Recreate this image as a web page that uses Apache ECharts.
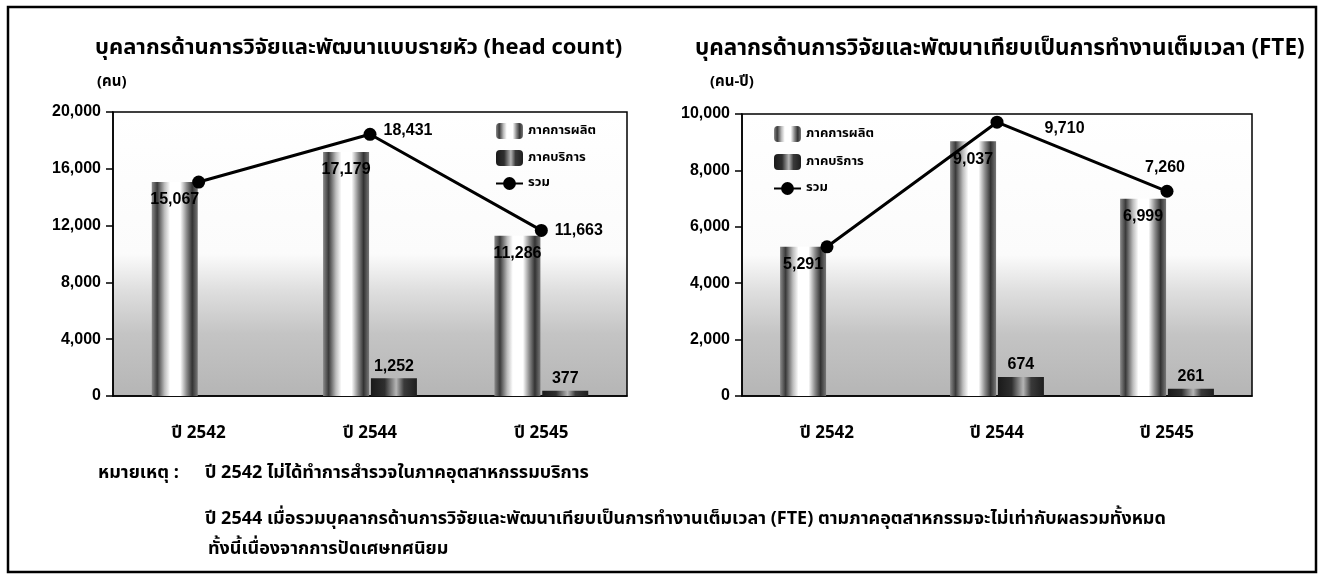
<!DOCTYPE html>
<html>
<head>
<meta charset="utf-8">
<title>บุคลากรด้านการวิจัยและพัฒนา</title>
<script src="https://cdn.jsdelivr.net/npm/echarts@6/dist/echarts.min.js"></script>
<style>
  html, body { margin: 0; padding: 0; background: #fff; }
  #chart { width: 1324px; height: 581px; }
</style>
</head>
<body>
<div id="chart"></div>
<script>
// ข้อมูล
const categories = ['ปี 2542', 'ปี 2544', 'ปี 2545']
const headManufacturing = [15067, 17179, 11286]
const headService = [null, 1252, 377]   // ปี 2542 ไม่ได้สำรวจภาคบริการ
const headTotal = [15067, 18431, 11663]
const fteManufacturing = [5291, 9037, 6999]
const fteService = [null, 674, 261]
const fteTotal = [5291, 9710, 7260]
const headTicks = [0, 20000, 4000]   // min, max, interval
const fteTicks = [0, 10000, 2000]

const FONT = "'Noto Sans Thai', 'Noto Sans', 'DejaVu Sans', sans-serif"
const NUM = "'Liberation Sans Narrow', 'Liberation Sans', Arial, sans-serif"

// ลายทรงกระบอก
const manuColor = {
  type: 'linear', x: 0, y: 0, x2: 1, y2: 0,
  colorStops: [
    { offset: 0, color: '#8a8a8a' },
    { offset: 0.12, color: '#3a3a3a' },
    { offset: 0.28, color: '#bdbdbd' },
    { offset: 0.4, color: '#ffffff' },
    { offset: 0.62, color: '#ffffff' },
    { offset: 0.76, color: '#8a8a8a' },
    { offset: 0.88, color: '#333' },
    { offset: 1, color: '#777' }
  ]
}
const servColor = {
  type: 'linear', x: 0, y: 0, x2: 1, y2: 0,
  colorStops: [
    { offset: 0, color: '#1a1a1a' },
    { offset: 0.3, color: '#2e2e2e' },
    { offset: 0.55, color: '#b5b5b5' },
    { offset: 0.72, color: '#3a3a3a' },
    { offset: 1, color: '#1e1e1e' }
  ]
}
const plotBg = {
  type: 'linear', x: 0, y: 0, x2: 0, y2: 1,
  colorStops: [
    { offset: 0, color: '#ffffff' },
    { offset: 0.5, color: '#fbfbfb' },
    { offset: 0.63, color: '#dedede' },
    { offset: 0.78, color: '#c4c4c4' },
    { offset: 1, color: '#b5b5b5' }
  ]
}

const numLabel = { color: '#000', fontFamily: NUM, fontWeight: 'bold', fontSize: 16 }
const noteFont = 'bold 18px ' + FONT

function yAxis(idx, t) {
  return {
    gridIndex: idx, type: 'value', min: t[0], max: t[1], interval: t[2],
    axisLine: { show: true, lineStyle: { color: '#000', width: 1.5 } },
    axisTick: { show: true, length: 7, lineStyle: { color: '#000', width: 1.5 } },
    splitLine: { show: false },
    axisLabel: {
      margin: 12, color: '#000', fontFamily: NUM, fontWeight: 'bold', fontSize: 16,
      formatter: v => v.toLocaleString('en-US')
    }
  }
}
function xAxis(idx) {
  return {
    gridIndex: idx, type: 'category', data: categories,
    axisLine: { lineStyle: { color: '#000', width: 1.5 } },
    axisTick: { length: 7, lineStyle: { color: '#000', width: 1.5 } },
    axisLabel: { margin: 30, color: '#000', fontFamily: FONT, fontWeight: 'bold', fontSize: 17 }
  }
}
function barSeries(name, idx, vals, color, pos, dist, barW) {
  return {
    name: name, type: 'bar', xAxisIndex: idx, yAxisIndex: idx,
    barWidth: barW, barGap: '4%',
    itemStyle: { color: color },
    label: {
      show: true, position: pos, distance: dist, ...numLabel,
      formatter: p => p.value.toLocaleString('en-US')
    },
    data: vals
  }
}
function lineSeries(idx, vals, labelPos) {
  return {
    name: 'รวม', type: 'line', xAxisIndex: idx, yAxisIndex: idx,
    symbol: 'circle', symbolSize: 13, z: 5,
    lineStyle: { color: '#000', width: 3 },
    itemStyle: { color: '#000' },
    data: vals.map((v, i) => ({
      value: v,
      label: labelPos[i] ? {
        show: true, ...numLabel,
        position: labelPos[i].pos, offset: labelPos[i].off,
        formatter: p => p.value.toLocaleString('en-US')
      } : { show: false }
    }))
  }
}
function legend(left, top) {
  return {
    left: left, top: top, orient: 'vertical', itemGap: 11,
    itemWidth: 27, itemHeight: 16,
    textStyle: { color: '#000', fontFamily: FONT, fontWeight: 'bold', fontSize: 13 },
    data: ['ภาคการผลิต', 'ภาคบริการ', 'รวม']
  }
}

const chart = echarts.init(document.getElementById('chart'))
chart.setOption({
  backgroundColor: '#fff',
  animation: false,
  title: [
    { text: 'บุคลากรด้านการวิจัยและพัฒนาแบบรายหัว (head count)', left: 90, top: 34,
      textStyle: { fontFamily: FONT, fontWeight: 'bold', fontSize: 22, color: '#000' } },
    { text: '(คน)', left: 92, top: 70,
      textStyle: { fontFamily: FONT, fontWeight: 'bold', fontSize: 15, color: '#000' } },
    { text: 'บุคลากรด้านการวิจัยและพัฒนาเทียบเป็นการทำงานเต็มเวลา (FTE)', left: 690, top: 34,
      textStyle: { fontFamily: FONT, fontWeight: 'bold', fontSize: 22.5, color: '#000' } },
    { text: '(คน-ปี)', left: 705, top: 70,
      textStyle: { fontFamily: FONT, fontWeight: 'bold', fontSize: 15, color: '#000' } }
  ],
  legend: [
    legend(490, 118),
    { ...legend(768, 121), itemGap: 12 }
  ],
  grid: [
    { left: 113, right: 697, top: 112, bottom: 185, show: true,
      backgroundColor: plotBg, borderColor: '#000', borderWidth: 1.5 },
    { left: 742, right: 72, top: 114, bottom: 185, show: true,
      backgroundColor: plotBg, borderColor: '#000', borderWidth: 1.5 }
  ],
  xAxis: [xAxis(0), xAxis(1)],
  yAxis: [yAxis(0, headTicks), yAxis(1, fteTicks)],
  series: [
    barSeries('ภาคการผลิต', 0, headManufacturing, manuColor, 'insideTop', 10, 46),
    barSeries('ภาคบริการ', 0, headService, servColor, 'top', 4, 46),
    lineSeries(0, headTotal, [null, { pos: 'right', off: [2, -4] }, { pos: 'right', off: [2, 0] }]),
    barSeries('ภาคการผลิต', 1, fteManufacturing, manuColor, 'insideTop', 10, 46),
    barSeries('ภาคบริการ', 1, fteService, servColor, 'top', 4, 46),
    lineSeries(1, fteTotal, [null, { pos: 'right', off: [36, 6] }, { pos: 'top', off: [-2, -4] }])
  ],
  graphic: [
    { type: 'rect', shape: { x: 8, y: 7, width: 1308, height: 565 },
      style: { fill: 'none', stroke: '#000', lineWidth: 2.5 } },
    { type: 'text', left: 98, top: 465,
      style: { text: 'หมายเหตุ :', font: noteFont, fill: '#000' } },
    { type: 'text', left: 205, top: 465,
      style: { text: 'ปี 2542 ไม่ได้ทำการสำรวจในภาคอุตสาหกรรมบริการ', font: noteFont, fill: '#000' } },
    { type: 'text', left: 205, top: 511,
      style: { text: 'ปี 2544 เมื่อรวมบุคลากรด้านการวิจัยและพัฒนาเทียบเป็นการทำงานเต็มเวลา (FTE) ตามภาคอุตสาหกรรมจะไม่เท่ากับผลรวมทั้งหมด', font: noteFont, fill: '#000' } },
    { type: 'text', left: 208, top: 541,
      style: { text: 'ทั้งนี้เนื่องจากการปัดเศษทศนิยม', font: noteFont, fill: '#000' } }
  ]
})
</script>
</body>
</html>
